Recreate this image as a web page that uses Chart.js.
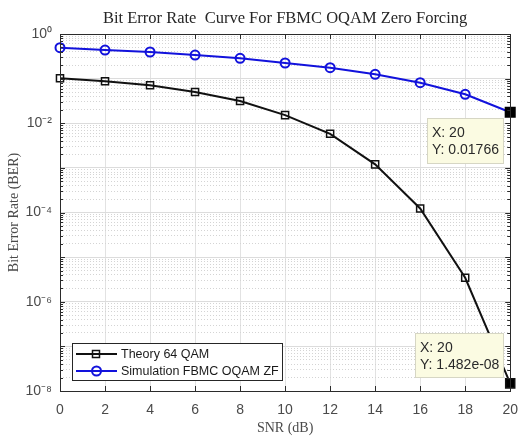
<!DOCTYPE html>
<html>
<head>
<meta charset="utf-8">
<script src="https://cdn.jsdelivr.net/npm/chart.js@4.4.1/dist/chart.umd.min.js"></script>
<style>
  body { margin: 0; background: #ffffff; }
  canvas { display: block; }
</style>
</head>
<body>
<canvas id="berchart" width="529" height="437"></canvas>
<script>
// SNR values (dB)
var snr = [0, 2, 4, 6, 8, 10, 12, 14, 16, 18, 20];
// BER
var theoryBer = [0.102, 0.087, 0.071, 0.050, 0.0315, 0.0152, 0.0058, 0.0012, 1.23e-4, 3.45e-6, 1.482e-8];
var simBer = [0.493, 0.437, 0.395, 0.338, 0.285, 0.224, 0.176, 0.125, 0.081, 0.0445, 0.01766];
var seriesNames = ["Theory 64 QAM", "Simulation FBMC OQAM ZF"];
var yTickExps = [0, -2, -4, -6, -8];
var tipLabels = ["Y: 1.482e-08", "Y: 0.01766"];
var chartTitle = "Bit Error Rate  Curve For FBMC OQAM Zero Forcing";

var sup = { "0": "\u2070", "2": "\u00b2", "4": "\u2074", "6": "\u2076", "8": "\u2078", "-": "\u207b" };
function expLabel(e) {
  return "10" + String(e).split("").map(function (c) { return sup[c]; }).join("");
}

var lastIdx = snr.length - 1;

function makePoints(data) {
  return data.map(function (v, i) { return { x: snr[i], y: v }; });
}

// title centred over the axes box (MATLAB style)
var titlePlugin = {
  id: "axesTitle",
  afterDraw: function (chart) {
    var ctx = chart.ctx, a = chart.chartArea;
    ctx.save();
    ctx.font = "16.5px 'Liberation Serif', 'DejaVu Serif', serif";
    ctx.fillStyle = "#262626";
    ctx.textAlign = "center";
    ctx.textBaseline = "middle";
    ctx.fillText(chartTitle, (a.left + a.right) / 2, a.top - 15);
    ctx.restore();
  }
};

// frame, inward ticks
var framePlugin = {
  id: "frame",
  afterDatasetsDraw: function (chart) {
    var ctx = chart.ctx, a = chart.chartArea;
    var xs = chart.scales.x, ys = chart.scales.y;
    ctx.save();
    ctx.strokeStyle = "#2b2b2b";
    ctx.lineWidth = 1;
    ctx.beginPath();
    xs.ticks.forEach(function (t) {
      var px = Math.round(xs.getPixelForValue(t.value)) + 0.5;
      ctx.moveTo(px, a.bottom); ctx.lineTo(px, a.bottom - 5);
      ctx.moveTo(px, a.top); ctx.lineTo(px, a.top + 5);
    });
    ys.ticks.forEach(function (t) {
      var py = Math.round(ys.getPixelForValue(t.value)) + 0.5;
      var len = t.major ? 5 : 3;
      ctx.moveTo(a.left, py); ctx.lineTo(a.left + len, py);
      ctx.moveTo(a.right, py); ctx.lineTo(a.right - len, py);
    });
    ctx.stroke();
    ctx.strokeRect(Math.round(a.left) + 0.5, Math.round(a.top) + 0.5,
      Math.round(a.right - a.left), Math.round(a.bottom - a.top));
    ctx.restore();
  }
};

// legend inside the axes, bottom left
var legendPlugin = {
  id: "boxLegend",
  afterDatasetsDraw: function (chart) {
    var ctx = chart.ctx, a = chart.chartArea;
    var x0 = a.left + 12, y1 = a.bottom - 11, w = 210, h = 37;
    var y0 = y1 - h;
    ctx.save();
    ctx.fillStyle = "#ffffff";
    ctx.fillRect(x0, y0, w, h);
    ctx.strokeStyle = "#262626";
    ctx.lineWidth = 1;
    ctx.strokeRect(Math.round(x0) + 0.5, Math.round(y0) + 0.5, w, h);
    ctx.font = "12.5px 'Liberation Sans', Arial, sans-serif";
    ctx.textBaseline = "middle";
    chart.data.datasets.forEach(function (ds, i) {
      var cy = y0 + 11 + i * 17;
      ctx.strokeStyle = ds.borderColor;
      ctx.lineWidth = 2;
      ctx.beginPath();
      ctx.moveTo(x0 + 4, cy); ctx.lineTo(x0 + 45, cy);
      ctx.stroke();
      ctx.lineWidth = ds.legendMarker === "rect" ? 1.5 : 2;
      ctx.beginPath();
      if (ds.legendMarker === "rect") {
        ctx.rect(x0 + 20.5, cy - 3.5, 7, 7);
      } else {
        ctx.arc(x0 + 24.5, cy, 4.5, 0, Math.PI * 2);
      }
      ctx.stroke();
      ctx.fillStyle = "#1a1a1a";
      ctx.fillText(ds.label, x0 + 49, cy + 1);
    });
    ctx.restore();
  }
};

// data tips at the last point of each series
var tipPlugin = {
  id: "dataTips",
  afterDatasetsDraw: function (chart) {
    var ctx = chart.ctx;
    var boxes = [
      { ds: 0, dx: -95, dy: -50, w: 88, h: 44, text: tipLabels[0] },
      { ds: 1, dx: -83, dy: 6, w: 76, h: 45, text: tipLabels[1] }
    ];
    ctx.save();
    ctx.font = "14px 'Liberation Sans', Arial, sans-serif";
    ctx.textBaseline = "middle";
    boxes.forEach(function (b) {
      var pt = chart.getDatasetMeta(b.ds).data[lastIdx];
      var bx = Math.round(pt.x + b.dx), by = Math.round(pt.y + b.dy);
      ctx.fillStyle = "#fbfbe2";
      ctx.fillRect(bx, by, b.w, b.h);
      ctx.strokeStyle = "#d6d6c4";
      ctx.lineWidth = 1;
      ctx.strokeRect(bx + 0.5, by + 0.5, b.w, b.h);
      ctx.fillStyle = "#2a2a2a";
      ctx.fillText("X: " + snr[lastIdx], bx + 5, by + 15);
      ctx.fillText(b.text, bx + 5, by + 32);
    });
    ctx.restore();
  }
};

function logTicks(scale) {
  var ticks = [];
  for (var e = -8; e < 0; e++) {
    for (var k = 1; k <= 9; k++) {
      ticks.push({ value: k * Math.pow(10, e), major: k === 1, exp: e });
    }
  }
  ticks.push({ value: 1, major: true, exp: 0 });
  scale.ticks = ticks;
}

var ctxEl = document.getElementById("berchart");

new Chart(ctxEl, {
  type: "line",
  data: {
    datasets: [
      {
        label: seriesNames[0],
        data: makePoints(theoryBer),
        borderColor: "#111111",
        borderWidth: 2,
        legendMarker: "rect",
        pointStyle: "rect",
        pointRadius: function (c) { return c.dataIndex === lastIdx ? 6.4 : 5; },
        pointBorderWidth: 1.5,
        pointBorderColor: "#111111",
        pointBackgroundColor: function (c) { return c.dataIndex === lastIdx ? "#000000" : "rgba(0,0,0,0)"; },
        clip: false,
        fill: false
      },
      {
        label: seriesNames[1],
        data: makePoints(simBer),
        borderColor: "#1212dc",
        borderWidth: 2,
        legendMarker: "circle",
        pointStyle: function (c) { return c.dataIndex === lastIdx ? "rect" : "circle"; },
        pointRadius: function (c) { return c.dataIndex === lastIdx ? 6.4 : 4.5; },
        pointBorderWidth: 2,
        pointBorderColor: function (c) { return c.dataIndex === lastIdx ? "#000000" : "#1212dc"; },
        pointBackgroundColor: function (c) { return c.dataIndex === lastIdx ? "#000000" : "rgba(0,0,0,0)"; },
        clip: false,
        fill: false
      }
    ]
  },
  options: {
    responsive: false,
    animation: false,
    events: [],
    layout: { padding: { left: 0, right: 15, top: 34, bottom: 0 } },
    plugins: {
      legend: { display: false },
      tooltip: { enabled: false },
      title: { display: false }
    },
    scales: {
      x: {
        type: "linear",
        min: 0,
        max: 20,
        ticks: {
          stepSize: 2,
          padding: 11,
          color: "#4a4a4a",
          font: { family: "'Liberation Sans', Arial, sans-serif", size: 14 }
        },
        grid: { color: "#e2e2e2", drawTicks: false },
        border: { display: false },
        title: {
          display: true,
          text: "SNR (dB)",
          color: "#4a4a4a",
          font: { family: "'Liberation Serif', 'DejaVu Serif', serif", size: 14 },
          padding: { top: 0, bottom: 0 }
        },
        afterFit: function (s) { s.height = 46; }
      },
      y: {
        type: "logarithmic",
        min: 1e-8,
        max: 1,
        afterBuildTicks: logTicks,
        ticks: {
          autoSkip: false,
          padding: 8,
          color: "#4a4a4a",
          font: { family: "'Liberation Sans', Arial, sans-serif", size: 14 },
          callback: function (v, i, ticks) {
            var t = ticks[i];
            return t.major && yTickExps.indexOf(t.exp) >= 0 ? expLabel(t.exp) : "";
          }
        },
        grid: {
          drawTicks: false,
          color: function (c) { return c.tick && c.tick.major ? "#dcdcdc" : "rgba(0,0,0,0)"; }
        },
        border: { display: false },
        title: {
          display: true,
          text: "Bit Error Rate (BER)",
          color: "#4a4a4a",
          font: { family: "'Liberation Serif', 'DejaVu Serif', serif", size: 14 },
          padding: { top: 6, bottom: 0 }
        },
        afterFit: function (s) { s.width = 60; }
      },
      y2: {
        type: "logarithmic",
        position: "left",
        min: 1e-8,
        max: 1,
        afterBuildTicks: logTicks,
        ticks: { display: false, autoSkip: false },
        grid: {
          drawTicks: false,
          color: function (c) { return c.tick && c.tick.major ? "rgba(0,0,0,0)" : "#d4d4d4"; }
        },
        border: { display: false, dash: [1, 2] },
        afterFit: function (s) { s.width = 0; }
      }
    }
  },
  plugins: [framePlugin, legendPlugin, tipPlugin, titlePlugin]
});
</script>
</body>
</html>
